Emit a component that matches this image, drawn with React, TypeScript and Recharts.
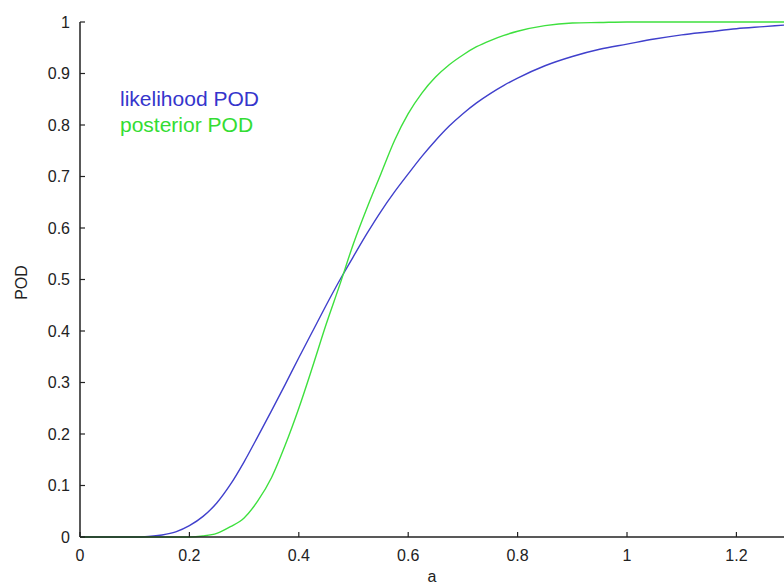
import React from 'react';
import { LineChart, Line, XAxis, YAxis } from 'recharts';

const xs = [0, 0.05, 0.1, 0.125, 0.15, 0.175, 0.2, 0.225, 0.25, 0.275, 0.3, 0.325, 0.35, 0.375, 0.4, 0.425, 0.45, 0.475, 0.5, 0.525, 0.55, 0.575, 0.6, 0.625, 0.65, 0.675, 0.7, 0.725, 0.75, 0.775, 0.8, 0.85, 0.9, 0.95, 1.0, 1.05, 1.1, 1.15, 1.2, 1.25, 1.287];
const likelihood = [0, 0, 0, 0.001, 0.004, 0.01, 0.022, 0.04, 0.066, 0.102, 0.146, 0.195, 0.245, 0.296, 0.348, 0.399, 0.45, 0.499, 0.545, 0.59, 0.632, 0.67, 0.705, 0.739, 0.77, 0.798, 0.822, 0.843, 0.861, 0.877, 0.891, 0.915, 0.933, 0.947, 0.957, 0.967, 0.975, 0.981, 0.987, 0.991, 0.994];
const posterior = [0, 0, 0, 0, 0, 0, 0, 0.002, 0.007, 0.02, 0.037, 0.07, 0.115, 0.178, 0.25, 0.33, 0.413, 0.49, 0.57, 0.64, 0.705, 0.77, 0.822, 0.862, 0.893, 0.917, 0.936, 0.952, 0.964, 0.974, 0.982, 0.993, 0.998, 0.999, 1, 1, 1, 1, 1, 1, 1];
const xTicks = [0, 0.2, 0.4, 0.6, 0.8, 1, 1.2];
const yTicks = [0, 0.1, 0.2, 0.3, 0.4, 0.5, 0.6, 0.7, 0.8, 0.9, 1];
const seriesNames = ['likelihood POD', 'posterior POD'];

const data = xs.map((x, i) => ({ x, likelihood: likelihood[i], posterior: posterior[i] }));

const BLUE = '#4040cc';
const GREEN = '#3ee03e';
const AXIS = '#222';
const FONT = '"Liberation Sans", Arial, sans-serif';

const XTick = (props: any) => {
  const { x, y, payload } = props;
  const axisY = y - 13;
  return (
    <g>
      <line x1={x} x2={x} y1={axisY} y2={axisY - 5} stroke={AXIS} strokeWidth={1.2} />
      <text x={x} y={y} dy="0.71em" textAnchor="middle" fontFamily={FONT} fontSize={16} fill="#222">
        {String(payload.value)}
      </text>
    </g>
  );
};

const YTick = (props: any) => {
  const { x, y, payload } = props;
  const axisX = x + 10;
  return (
    <g>
      <line x1={axisX} x2={axisX + 5} y1={y} y2={y} stroke={AXIS} strokeWidth={1.2} />
      <text x={x} y={y} dy="0.355em" textAnchor="end" fontFamily={FONT} fontSize={16} fill="#222">
        {String(payload.value)}
      </text>
    </g>
  );
};

const YLabel = (props: any) => {
  const { viewBox } = props;
  const cx = viewBox.x + 27;
  const cy = viewBox.y + viewBox.height / 2 + 3;
  return (
    <text x={cx} y={cy} transform={`rotate(-90, ${cx}, ${cy})`} textAnchor="middle" fontFamily={FONT} fontSize={16} fill="#222">
      POD
    </text>
  );
};

export default function App() {
  return (
    <div style={{ position: 'absolute', left: 0, top: 0, width: 784, height: 585, background: '#fff' }}>
      <LineChart width={784} height={585} data={data} margin={{ top: 22, right: 0, left: 0, bottom: 0 }}>
        <XAxis
          dataKey="x"
          type="number"
          domain={[0, 1.287]}
          allowDataOverflow
          ticks={xTicks}
          interval={0}
          height={48}
          tickSize={0}
          tickMargin={13}
          tick={<XTick />}
          axisLine={{ stroke: AXIS, strokeWidth: 1.5 }}
          label={{ value: 'a', position: 'insideBottom', offset: 3, fontFamily: FONT, fontSize: 16, fill: '#222' }}
        />
        <YAxis
          type="number"
          domain={[0, 1]}
          ticks={yTicks}
          interval={0}
          width={80}
          tickSize={0}
          tickMargin={10}
          tick={<YTick />}
          axisLine={{ stroke: AXIS, strokeWidth: 1.5 }}
          label={<YLabel />}
        />
        <Line type="monotone" dataKey="likelihood" name={seriesNames[0]} stroke={BLUE} strokeWidth={1.4} dot={false} isAnimationActive={false} />
        <Line type="monotone" dataKey="posterior" name={seriesNames[1]} stroke={GREEN} strokeWidth={1.4} dot={false} isAnimationActive={false} />
      </LineChart>
      <div style={{ position: 'absolute', left: 120, top: 86, fontFamily: FONT, fontSize: 21, lineHeight: '26px' }}>
        <div style={{ color: '#3535cc' }}>{seriesNames[0]}</div>
        <div style={{ color: '#33dd33' }}>{seriesNames[1]}</div>
      </div>
    </div>
  );
}
